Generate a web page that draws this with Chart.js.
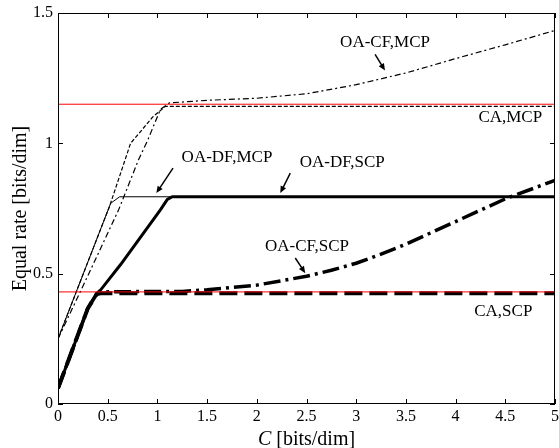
<!DOCTYPE html>
<html>
<head>
<meta charset="utf-8">
<script src="https://cdn.jsdelivr.net/npm/chart.js@4.4.1/dist/chart.umd.min.js"></script>
<style>
  html, body { margin: 0; padding: 0; background: #fff; }
</style>
</head>
<body>
<canvas id="rateChart" width="559" height="448"></canvas>
<script>
// C [bits/dim] vs equal rate [bits/dim]
let boundX = [0, 5]
let caMcpBound = [1.15, 1.15]
let caScpBound = [0.43, 0.43]

let caMcpX = [0, 0.52, 0.73, 0.83, 0.95, 1.08, 5]
let caMcpY = [0.25, 0.76, 1.0, 1.045, 1.10, 1.142, 1.142]

let cfMcpX = [0, 0.31, 0.61, 0.81, 0.9, 1.03, 1.12, 1.5, 2.0, 2.5, 3.0, 3.5, 4.0, 4.5, 5]
let cfMcpY = [0.25, 0.5, 0.745, 0.937, 1.01, 1.13, 1.155, 1.165, 1.173, 1.19, 1.225, 1.27, 1.325, 1.378, 1.433]

let dfMcpX = [0, 0.53, 0.62, 1.2]
let dfMcpY = [0.25, 0.77, 0.795, 0.795]

let caScpX = [0, 0.3, 0.39, 0.43, 5]
let caScpY = [0.06, 0.367, 0.422, 0.425, 0.425]

let cfScpX = [0, 0.3, 0.39, 0.45, 1.0, 1.25, 1.5, 2.0, 2.5, 2.75, 3.0, 3.25, 3.5, 4.0, 4.5, 5]
let cfScpY = [0.06, 0.367, 0.422, 0.43, 0.432, 0.432, 0.438, 0.456, 0.49, 0.513, 0.54, 0.575, 0.613, 0.70, 0.787, 0.858]

let dfScpX = [0, 0.3, 0.39, 0.43, 0.63, 1.03, 1.1, 1.15, 5]
let dfScpY = [0.06, 0.367, 0.425, 0.438, 0.535, 0.745, 0.785, 0.795, 0.795]

let xTicks = [0, 0.5, 1, 1.5, 2, 2.5, 3, 3.5, 4, 4.5, 5]
let xTickLabels = ['0', '0.5', '1', '1.5', '2', '2.5', '3', '3.5', '4', '4.5', '5']
let yTicks = [0, 0.5, 1, 1.5]
let yTickLabels = ['0', '0.5', '1', '1.5']

// labels and arrows, in data units: [text, textX, textY, arrowFromX, arrowFromY, arrowToX, arrowToY]
let notes = [
  ['OA-CF,MCP', 3.29, 1.387, 3.19, 1.341, 3.29, 1.279],
  ['CA,MCP', 4.55, 1.099],
  ['CA,SCP', 4.48, 0.353],
  ['OA-DF,MCP', 1.70, 0.945, 1.157, 0.905, 0.989, 0.809],
  ['OA-DF,SCP', 2.86, 0.925, 2.337, 0.886, 2.236, 0.809],
  ['OA-CF,SCP', 2.505, 0.604, 2.387, 0.560, 2.488, 0.502]
]

let serif = "'Liberation Serif', 'Times New Roman', serif"

function pts(xs, ys) {
  return xs.map((x, i) => ({ x: x, y: ys[i] }))
}

function line(data, color, width, dash) {
  return {
    data: data,
    borderColor: color,
    borderWidth: width,
    borderDash: dash,
    pointRadius: 0,
    tension: 0,
    fill: false,
    borderCapStyle: 'butt'
  }
}

let frame = {
  id: 'frame',
  afterDatasetsDraw(chart) {
    let ctx = chart.ctx
    let a = chart.chartArea
    let x = chart.scales.x
    let y = chart.scales.y
    ctx.save()
    ctx.strokeStyle = '#000'
    ctx.lineWidth = 1
    ctx.strokeRect(Math.round(a.left) + 0.5, Math.round(a.top) + 0.5,
      Math.round(a.right - a.left) - 1, Math.round(a.bottom - a.top) - 1)
    ctx.beginPath()
    xTicks.forEach(v => {
      let px = Math.round(x.getPixelForValue(v)) + 0.5
      ctx.moveTo(px, a.bottom); ctx.lineTo(px, a.bottom - 5)
      ctx.moveTo(px, a.top); ctx.lineTo(px, a.top + 5)
    })
    yTicks.forEach(v => {
      let py = Math.round(y.getPixelForValue(v)) + 0.5
      ctx.moveTo(a.left, py); ctx.lineTo(a.left + 5, py)
      ctx.moveTo(a.right, py); ctx.lineTo(a.right - 5, py)
    })
    ctx.stroke()

    // annotations
    ctx.fillStyle = '#000'
    ctx.font = '17px ' + serif
    ctx.textAlign = 'center'
    ctx.textBaseline = 'middle'
    notes.forEach(n => {
      ctx.fillText(n[0], x.getPixelForValue(n[1]), y.getPixelForValue(n[2]))
      if (n.length > 3) {
        let x0 = x.getPixelForValue(n[3]), y0 = y.getPixelForValue(n[4])
        let x1 = x.getPixelForValue(n[5]), y1 = y.getPixelForValue(n[6])
        let ang = Math.atan2(y1 - y0, x1 - x0)
        ctx.beginPath()
        ctx.lineWidth = 1.5
        ctx.moveTo(x0, y0)
        ctx.lineTo(x1 - 4 * Math.cos(ang), y1 - 4 * Math.sin(ang))
        ctx.stroke()
        ctx.beginPath()
        ctx.moveTo(x1, y1)
        ctx.lineTo(x1 - 7 * Math.cos(ang) + 3 * Math.sin(ang), y1 - 7 * Math.sin(ang) - 3 * Math.cos(ang))
        ctx.lineTo(x1 - 7 * Math.cos(ang) - 3 * Math.sin(ang), y1 - 7 * Math.sin(ang) + 3 * Math.cos(ang))
        ctx.closePath()
        ctx.fill()
      }
    })

    // axis titles
    ctx.textAlign = 'left'
    ctx.textBaseline = 'alphabetic'
    ctx.font = 'italic 20px ' + serif
    let cW = ctx.measureText('C').width
    ctx.font = '20px ' + serif
    let restW = ctx.measureText(' [bits/dim]').width
    let cx = (a.left + a.right) / 2 - (cW + restW) / 2
    ctx.font = 'italic 20px ' + serif
    ctx.fillText('C', cx, 445)
    ctx.font = '20px ' + serif
    ctx.fillText(' [bits/dim]', cx + cW, 445)

    ctx.translate(26, (a.top + a.bottom) / 2)
    ctx.rotate(-Math.PI / 2)
    ctx.textAlign = 'center'
    ctx.fillText('Equal rate [bits/dim]', 0, 0)
    ctx.restore()
  }
}

let tickFont = { family: serif, size: 16 }

new Chart(document.getElementById('rateChart').getContext('2d'), {
  type: 'line',
  data: {
    datasets: [
      line(pts(boundX, caMcpBound), '#ff0000', 1, []),
      line(pts(boundX, caScpBound), '#ff0000', 1, []),
      line(pts(caMcpX, caMcpY), '#000', 1.2, [4, 2]),
      line(pts(cfMcpX, cfMcpY), '#000', 1.2, [6, 3, 2, 3]),
      line(pts(dfMcpX, dfMcpY), '#000', 1, []),
      line(pts(caScpX, caScpY), '#000', 4, [18, 7]),
      line(pts(cfScpX, cfScpY), '#000', 3.5, [17, 5, 3, 5]),
      line(pts(dfScpX, dfScpY), '#000', 3, [])
    ]
  },
  options: {
    responsive: false,
    animation: false,
    layout: { padding: { top: 13, right: 4, left: 0, bottom: 0 } },
    plugins: { legend: { display: false }, tooltip: { enabled: false } },
    scales: {
      x: {
        type: 'linear',
        min: 0,
        max: 5,
        afterBuildTicks: s => { s.ticks = xTicks.map(v => ({ value: v })) },
        afterFit: s => { s.height = 44; s.paddingLeft = 0; s.paddingRight = 0 },
        grid: { display: false, drawTicks: false },
        border: { display: false },
        ticks: {
          font: tickFont, color: '#000', padding: 3, maxRotation: 0, autoSkip: false,
          callback: (v, i) => xTickLabels[i]
        }
      },
      y: {
        type: 'linear',
        min: 0,
        max: 1.5,
        afterBuildTicks: s => { s.ticks = yTicks.map(v => ({ value: v })) },
        afterFit: s => { s.width = 58; s.paddingTop = 0; s.paddingBottom = 0 },
        grid: { display: false, drawTicks: false },
        border: { display: false },
        ticks: {
          font: tickFont, color: '#000', padding: 5,
          callback: (v, i) => yTickLabels[i]
        }
      }
    }
  },
  plugins: [frame]
})
</script>
</body>
</html>
